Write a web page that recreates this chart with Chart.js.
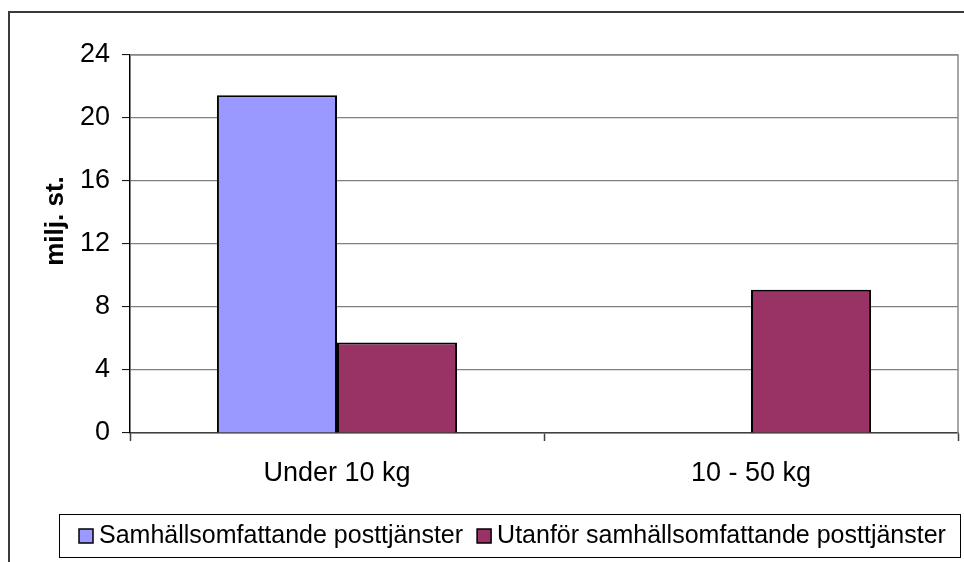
<!DOCTYPE html>
<html>
<head>
<meta charset="utf-8">
<script src="https://cdn.jsdelivr.net/npm/chart.js@4"></script>
<style>
  html, body { margin: 0; padding: 0; background: #ffffff; }
  #wrap { width: 964px; height: 562px; }
</style>
</head>
<body>
<div id="wrap"><canvas id="c" width="964" height="562"></canvas></div>
<script>
// ---- data ----
const categories = ['Under 10 kg', '10 - 50 kg'];
const seriesNames = ['Samhällsomfattande posttjänster', 'Utanför samhällsomfattande posttjänster'];
const samhallsValues = [21.45, null];
const utanforValues = [5.75, 9.1];
const yTicks = [0, 4, 8, 12, 16, 20, 24];
const yTitle = 'milj. st.';

const FONT = '"Liberation Sans", Arial, sans-serif';

const decor = {
  id: 'decor',
  beforeDatasetsDraw(chart) {
    const c = chart.ctx, a = chart.chartArea;
    c.save();
    c.strokeStyle = '#8a8a8a';
    c.lineWidth = 1.5;
    c.beginPath();
    c.moveTo(a.left, a.top);
    c.lineTo(a.right, a.top);
    c.lineTo(a.right, a.bottom);
    c.stroke();
    c.restore();
  },
  afterDraw(chart) {
    const c = chart.ctx;
    c.save();
    // outer frame (top and left visible)
    c.strokeStyle = '#3a3a3a';
    c.lineWidth = 2;
    c.beginPath();
    c.moveTo(9, 562);
    c.lineTo(9, 12);
    c.lineTo(964, 12);
    c.stroke();

    // y axis title
    c.fillStyle = '#000';
    c.font = 'bold 26px ' + FONT;
    c.textAlign = 'center';
    c.textBaseline = 'middle';
    c.translate(56, 221);
    c.rotate(-Math.PI / 2);
    c.fillText(yTitle, 0, 0);
    c.restore();

    // legend box
    c.save();
    c.strokeStyle = '#000';
    c.lineWidth = 1;
    c.strokeRect(59.5, 514.5, 901, 43);
    c.font = '25px ' + FONT;
    c.textAlign = 'left';
    c.textBaseline = 'middle';
    let x = 79;
    chart.data.datasets.forEach((ds) => {
      c.fillStyle = ds.backgroundColor;
      c.fillRect(x, 529, 14, 14);
      c.strokeStyle = '#000';
      c.lineWidth = 1.5;
      c.strokeRect(x, 529, 14, 14);
      x += 20;
      c.fillStyle = '#000';
      c.fillText(ds.label, x, 536);
      x += c.measureText(ds.label).width + 14;
    });
    c.restore();
  }
};

new Chart(document.getElementById('c'), {
  type: 'bar',
  data: {
    labels: categories,
    datasets: [
      { label: seriesNames[0], data: samhallsValues, backgroundColor: '#9999FF',
        borderColor: '#000', borderWidth: 2 },
      { label: seriesNames[1], data: utanforValues, backgroundColor: '#993366',
        borderColor: '#000', borderWidth: 2 }
    ]
  },
  options: {
    responsive: false,
    animation: false,
    devicePixelRatio: 1,
    layout: { padding: { left: 0, top: 55, right: 6, bottom: 0 } },
    plugins: { legend: { display: false }, title: { display: false }, tooltip: { enabled: false } },
    datasets: { bar: { categoryPercentage: 0.58, barPercentage: 1.0 } },
    scales: {
      x: {
        offset: true,
        grid: { offset: true, drawOnChartArea: false, drawTicks: true, tickLength: 8,
                tickColor: '#404040', tickWidth: 1.5 },
        border: { display: true, color: '#404040', width: 1.5 },
        ticks: { color: '#000', font: { family: FONT, size: 27 }, padding: 16, maxRotation: 0 },
        afterFit(scale) { scale.height = 129; }
      },
      y: {
        min: 0, max: 24,
        afterBuildTicks(scale) { scale.ticks = yTicks.map(v => ({ value: v })); },
        grid: { color: '#808080', lineWidth: 1.2, drawTicks: true, tickLength: 8,
                tickColor: '#000', tickWidth: 1 },
        border: { display: true, color: '#000', width: 1.5 },
        ticks: { color: '#000', font: { family: FONT, size: 27 }, padding: 12 },
        afterFit(scale) { scale.width = 130; }
      }
    }
  },
  plugins: [decor]
});
</script>
</body>
</html>
